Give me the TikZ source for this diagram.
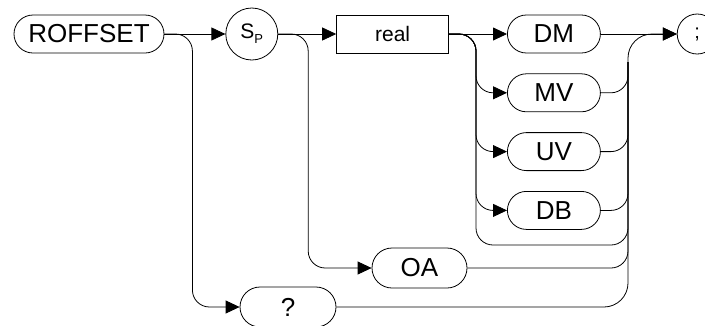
\documentclass[tikz,border=0pt]{standalone}
\usepackage{fontspec}
\setmainfont{Liberation Sans}
\usetikzlibrary{positioning, arrows.meta}
\tikzset{
  kw/.style={draw, line width=0.8pt, rounded corners=19pt, inner sep=0pt,
    minimum width=93pt, minimum height=38pt, font=\fontsize{26}{30}\selectfont},
  bx/.style={draw, line width=0.8pt, inner sep=0pt, minimum width=112pt,
    minimum height=38pt, font=\fontsize{21}{25}\selectfont},
  circ/.style={draw, circle, line width=0.8pt, inner sep=0pt},
  flow/.style={-{Triangle[length=14pt, width=13pt]}, line width=0.8pt, rounded corners=17pt},
  rail/.style={line width=0.8pt, rounded corners=17pt},
}
\begin{document}
\begin{tikzpicture}[x=1pt, y=-1pt, node distance=20pt and 58pt]
  \useasboundingbox (0,0) rectangle (705,325);
  \node[kw, minimum width=150pt] (rof) at (89,34) {ROFFSET};
  \node[circ, minimum size=52pt, right=61pt of rof] (sp)
    {{\fontsize{21}{24}\selectfont S}{\fontsize{13}{14}\selectfont\raisebox{-5pt}{P}}};
  \node[bx, right=of sp] (real) {real};
  \node[kw, right=of real] (dm) {DM};
  \node[kw, below=of dm] (mv) {MV};
  \node[kw, below=of mv] (uv) {UV};
  \node[kw, below=of uv] (db) {DB};
  \node[circ, minimum size=40pt, right=76pt of dm, font=\fontsize{20}{24}\selectfont] (semi) {;};
  \node[kw, minimum width=95pt, minimum height=40pt, rounded corners=20pt] (oa) at (419.5,268) {OA};
  \node[kw, minimum width=96pt, minimum height=40pt, rounded corners=20pt] (q) at (288,307) {?};
  % rail points
  \coordinate (tap) at (476,34);
  \coordinate (loop) at (476,245);
  \coordinate (col) at (628,34);
  \coordinate (colb) at (628,62);
  % main line
  \draw[flow] (rof.east) -- (sp.west);
  \draw[flow] (sp.east) -- (real.west);
  \draw[flow] (real.east) -- (dm.west);
  \draw[flow] (dm.east) -- (semi.west);
  % branches
  \draw[flow] (rof.east) -- ++(28,0) |- (q.west);
  \draw[flow] (sp.east) -- ++(30,0) |- (oa.west);
  \foreach \n in {mv, uv, db} \draw[flow] (real.east) -- (tap) |- (\n.west);
  \draw[rail] (real.east) -- (tap) -- (loop) -| (colb);
  % collector
  \foreach \n in {mv, uv, db, oa} \draw[rail] (\n.east) -| (colb);
  \draw[flow, rounded corners=24pt] (q.east) -| (col) -- (semi.west);
\end{tikzpicture}
\end{document}
